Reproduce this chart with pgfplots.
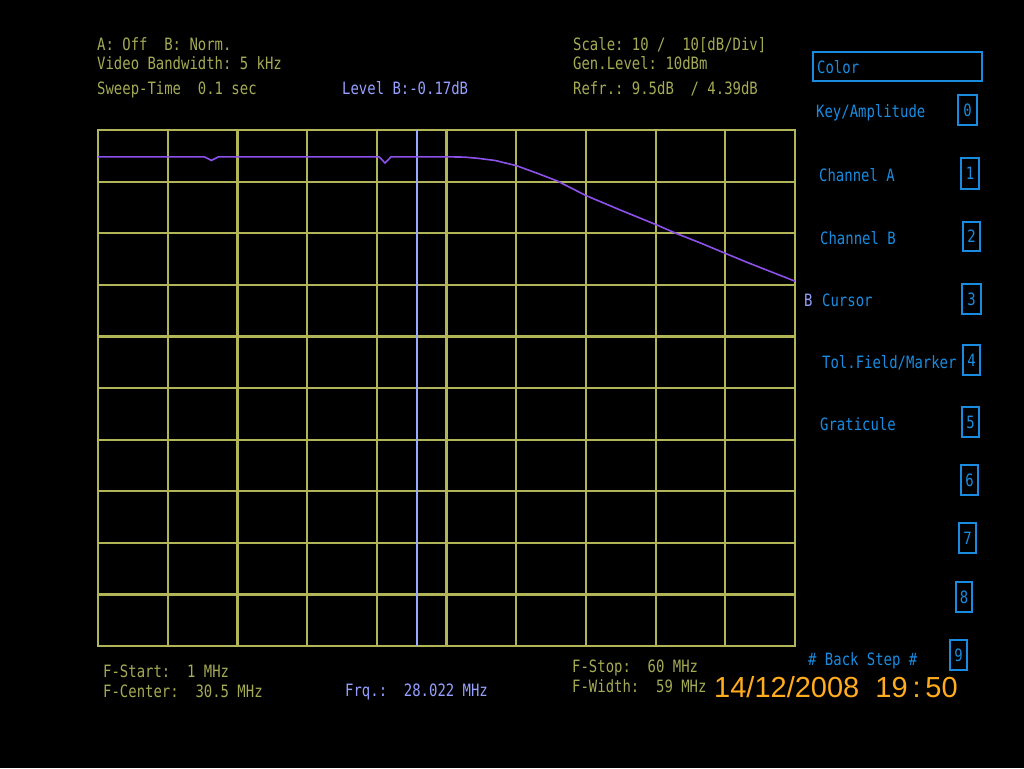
\documentclass[border=0pt]{standalone}
\usepackage{fontspec}
\usepackage{pgfplots}
\pgfplotsset{compat=1.18}
\newfontfamily\scr{DejaVu Sans Mono}[FakeStretch=0.82]
\newfontfamily\cam{Liberation Sans}
\definecolor{gridc}{RGB}{178,180,88}
\definecolor{txt}{RGB}{165,170,85}
\definecolor{trace}{RGB}{140,80,235}
\definecolor{curs}{RGB}{150,170,255}
\definecolor{lav}{RGB}{150,160,255}
\definecolor{menu}{RGB}{25,140,225}
\definecolor{datec}{RGB}{255,172,30}
\begin{document}
\begin{tikzpicture}[x=1pt,y=-1pt]
\fill[black] (0,0) rectangle (1024,768);
\useasboundingbox (0,0) rectangle (1024,768);
\begin{axis}[
  at={(98pt,-130pt)}, anchor=north west,
  scale only axis, width=697pt, height=516pt,
  xmin=1, xmax=60, ymin=-95, ymax=5,
  xtick={1,6.9,12.8,18.7,24.6,30.5,36.4,42.3,48.2,54.1,60},
  ytick={-95,-85,-75,-65,-55,-45,-35,-25,-15,-5,5},
  xticklabels={}, yticklabels={},
  major tick length=0pt,
  grid=major,
  major grid style={draw=gridc, line width=2.2pt},
  axis line style={draw=gridc, line width=2.2pt},
  clip=false,
]
\addplot[curs, line width=2pt] coordinates {(28.022,-95) (28.022,5)};
\addplot[trace, line width=1.6pt] coordinates {
(1,-0.2) (10.0,-0.2) (10.6,-0.9) (11.2,-0.2) (24.8,-0.2) (25.3,-1.4) (25.8,-0.2)
(30.5,-0.2) (32.0,-0.25) (33.2,-0.5) (34.6,-0.9) (36.4,-1.9) (38.2,-3.4)
(39.9,-4.9) (42.3,-7.7) (45.2,-10.5) (48.2,-13.3) (49.9,-15.0) (52.0,-16.9)
(54.1,-18.9) (56.0,-20.7) (58.0,-22.5) (60,-24.3)};
\end{axis}
\begin{scope}[every node/.style={anchor=base west, inner sep=0pt, font=\scr\fontsize{17}{17}\selectfont}]
\node[txt] at (97,50) {A:~Off~~B:~Norm.};
\node[txt] at (97,70) {Video~Bandwidth:~5~kHz};
\node[txt] at (97,94) {Sweep-Time~~0.1~sec};
\node[lav] at (342,94) {Level~B:-0.17dB};
\node[txt] at (573,50) {Scale:~10~/~~10[dB/Div]};
\node[txt] at (573,70) {Gen.Level:~10dBm};
\node[txt] at (573,94) {Refr.:~9.5dB~~/~4.39dB};
\node[txt] at (103,677) {F-Start:~~1~MHz};
\node[txt] at (103,697) {F-Center:~~30.5~MHz};
\node[lav] at (345,696) {Frq.:~~28.022~MHz};
\node[txt] at (572,672) {F-Stop:~~60~MHz};
\node[txt] at (572,692) {F-Width:~~59~MHz};
\node[menu] at (817,74) {Color};
\node[menu] at (816,117) {Key/Amplitude};
\node[menu] at (819,181) {Channel~A};
\node[menu] at (820,244) {Channel~B};
\node[lav] at (804,306) {B};
\node[menu] at (822,306) {Cursor};
\node[menu] at (822,368) {Tol.Field/Marker};
\node[menu] at (820,430) {Graticule};
\node[menu] at (808,665) {\#~Back~Step~\#};
\end{scope}
\draw[menu, line width=2pt] (813,52) rectangle (982,81);
\begin{scope}[every node/.style={inner sep=0pt, font=\scr\fontsize{17}{17}\selectfont, menu}]
\foreach \n/\xa/\xb/\ya/\yb in {0/958/977/95/125, 1/961/979/158/189, 2/963/980/222/251,
  3/962/981/284/314, 4/963/980/345/375, 5/962/979/407/437, 6/961/978/465/495,
  7/959/976/523/553, 8/956/972/582/612, 9/950/967/640/670}{
  \draw[menu, line width=1.8pt] (\xa,\ya) rectangle (\xb,\yb);
  \node at ({(\xa+\xb)/2},{(\ya+\yb)/2}) {\n};
}
\end{scope}
\node[anchor=base west, inner sep=0pt, datec, font=\cam\fontsize{29}{29}\selectfont] at (714,697) {14/12/2008\ \ 19\,:\,50};
\end{tikzpicture}
\end{document}
